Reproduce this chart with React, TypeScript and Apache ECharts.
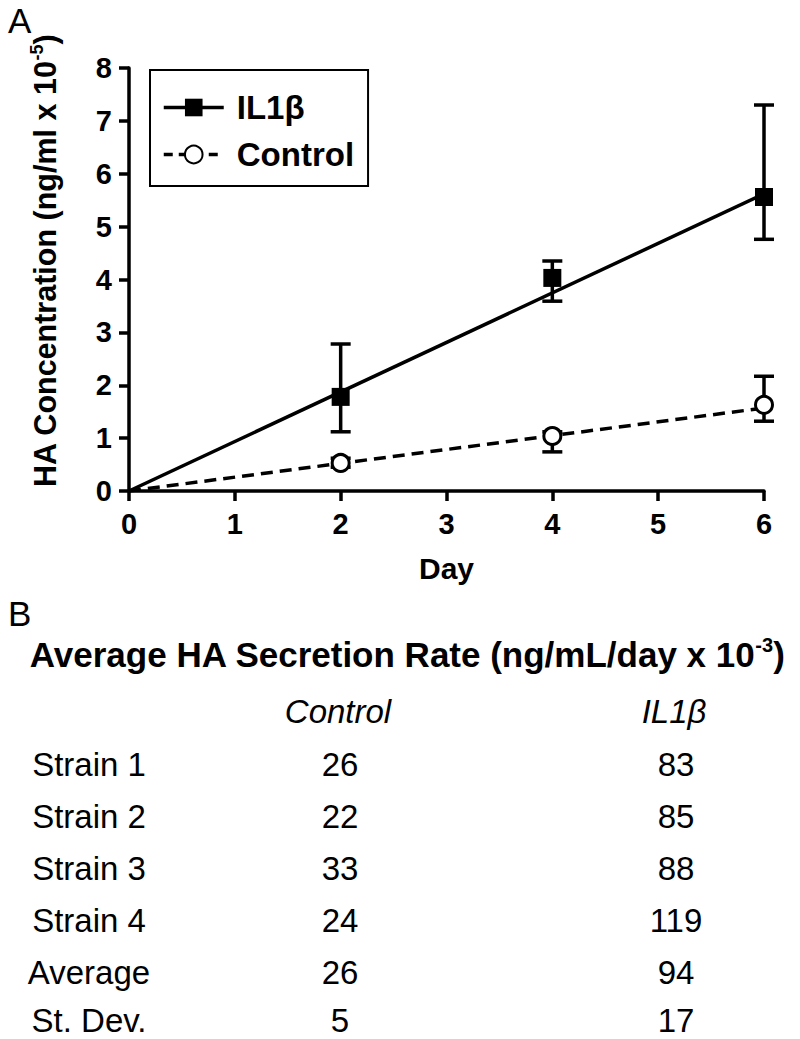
import React, { useEffect, useRef } from "react";
import * as echarts from "echarts";

// ---------- Panel A data ----------
const days = [2, 4, 6];
const il1bMean = [1.78, 4.03, 5.56];
const il1bLow = [1.12, 3.59, 4.76];
const il1bHigh = [2.78, 4.35, 7.3];
const ctrlMean = [0.53, 1.04, 1.63];
const ctrlLow = [0.45, 0.74, 1.32];
const ctrlHigh = [0.62, 1.12, 2.17];
const fitDays = [0, 6];
const il1bFit = [0, 5.62];
const ctrlFit = [0, 1.57];

// ---------- Panel B data ----------
const columnHeaders = ["Control", "IL1β"];
const rowLabels = ["Strain 1", "Strain 2", "Strain 3", "Strain 4", "Average", "St. Dev."];
const controlRates = [26, 22, 33, 24, 26, 5];
const il1bRates = [83, 85, 88, 119, 94, 17];

const FONT = "'Liberation Sans', Arial, Helvetica, sans-serif";

function errorSeries(name: string, low: number[], high: number[]) {
  return {
    name,
    type: "custom",
    z: 2,
    silent: true,
    data: days.map((d, i) => [d, low[i], high[i]]),
    encode: { x: 0, y: [1, 2] },
    renderItem: (params: any, api: any) => {
      const x = api.value(0);
      const lo = api.coord([x, api.value(1)]);
      const hi = api.coord([x, api.value(2)]);
      const cap = 10;
      const st = { stroke: "#000", lineWidth: 3.5 };
      return {
        type: "group",
        children: [
          { type: "line", shape: { x1: lo[0], y1: lo[1], x2: hi[0], y2: hi[1] }, style: st },
          { type: "line", shape: { x1: lo[0] - cap, y1: lo[1], x2: lo[0] + cap, y2: lo[1] }, style: st },
          { type: "line", shape: { x1: hi[0] - cap, y1: hi[1], x2: hi[0] + cap, y2: hi[1] }, style: st },
        ],
      };
    },
  };
}

export default function App() {
  const ref = useRef<HTMLDivElement>(null);

  useEffect(() => {
    if (!ref.current) return;
    const chart = echarts.init(ref.current, undefined, { renderer: "svg" });

    const tableRowY = [764, 816, 868, 920, 972, 1020];
    const colX = [89, 340, 676];
    const tableTexts: any[] = [];
    rowLabels.forEach((lab, i) => {
      const vals = [lab, String(controlRates[i]), String(il1bRates[i])];
      vals.forEach((t, j) => {
        tableTexts.push({
          type: "text",
          x: colX[j],
          y: tableRowY[i],
          style: {
            text: t,
            fill: "#000",
            font: `33px ${FONT}`,
            lineHeight: 34,
            align: "center",
            verticalAlign: "middle",
          },
        });
      });
    });
    columnHeaders.forEach((h, j) => {
      tableTexts.push({
        type: "text",
        x: colX[j + 1] - 2,
        y: 711,
        style: {
          text: h,
          fill: "#000",
          font: `italic 33px ${FONT}`,
          align: "center",
          verticalAlign: "middle",
        },
      });
    });

    const option: any = {
      animation: false,
      backgroundColor: "#fff",
      grid: {
        left: 129,
        right: 36,
        top: 68,
        bottom: 548,
        containLabel: false,
        outerBoundsMode: "none",
      },
      xAxis: {
        type: "value",
        min: 0,
        max: 6,
        interval: 1,
        name: "Day",
        nameLocation: "middle",
        nameGap: 62,
        nameTextStyle: { fontSize: 30, fontWeight: "bold", color: "#000", fontFamily: FONT },
        axisLine: { lineStyle: { color: "#000", width: 3.5 } },
        axisTick: { length: 10, lineStyle: { color: "#000", width: 3.5 } },
        axisLabel: { margin: 18, fontSize: 29, fontWeight: "bold", color: "#000", fontFamily: FONT },
        splitLine: { show: false },
      },
      yAxis: {
        type: "value",
        min: 0,
        max: 8,
        interval: 1,
        axisLine: { show: true, lineStyle: { color: "#000", width: 3.5 } },
        axisTick: { show: true, length: 10, lineStyle: { color: "#000", width: 3.5 } },
        axisLabel: { margin: 17, fontSize: 29, fontWeight: "bold", color: "#000", fontFamily: FONT },
        splitLine: { show: false },
      },
      legend: {
        orient: "vertical",
        left: 150,
        top: 70,
        padding: [21, 14, 15, 12],
        itemGap: 14,
        itemWidth: 60,
        itemHeight: 22,
        borderColor: "#000",
        borderWidth: 2,
        selectedMode: false,
        textStyle: { fontSize: 33, fontWeight: "bold", color: "#000", fontFamily: FONT, padding: [0, 0, 0, 8] },
        data: [
          { name: "IL1β", lineStyle: { width: 3.5, type: "solid", opacity: 1, color: "#000" } },
          { name: "Control", lineStyle: { width: 3.5, type: [9, 6], opacity: 1, color: "#000" } },
        ],
      },
      series: [
        {
          name: "IL1β fit",
          type: "line",
          z: 1,
          silent: true,
          symbol: "none",
          data: fitDays.map((d, i) => [d, il1bFit[i]]),
          lineStyle: { color: "#000", width: 3.5, type: "solid" },
        },
        {
          name: "Control fit",
          type: "line",
          z: 1,
          silent: true,
          symbol: "none",
          data: fitDays.map((d, i) => [d, ctrlFit[i]]),
          lineStyle: { color: "#000", width: 3.5, type: [12, 7] },
        },
        errorSeries("IL1β error", il1bLow, il1bHigh),
        errorSeries("Control error", ctrlLow, ctrlHigh),
        {
          name: "IL1β",
          type: "line",
          z: 3,
          symbol: "rect",
          symbolSize: 18,
          data: days.map((d, i) => [d, il1bMean[i]]),
          itemStyle: { color: "#000" },
          lineStyle: { opacity: 0 },
        },
        {
          name: "Control",
          type: "line",
          z: 3,
          symbol: "circle",
          symbolSize: 17,
          data: days.map((d, i) => [d, ctrlMean[i]]),
          itemStyle: { color: "#fff", borderColor: "#000", borderWidth: 3 },
          lineStyle: { opacity: 0 },
        },
      ],
      graphic: [
        {
          type: "text",
          x: 8,
          y: 20,
          style: { text: "A", fill: "#000", font: `35px ${FONT}`, verticalAlign: "middle" },
        },
        {
          type: "text",
          x: 45,
          y: 261,
          rotation: Math.PI / 2,
          style: {
            text: "{b|HA Concentration (ng/ml x 10}{s|-5}{b|)}",
            align: "center",
            verticalAlign: "middle",
            rich: {
              b: { fontSize: 30.5, fontWeight: "bold", fontFamily: FONT, fill: "#000", lineHeight: 34 },
              s: { fontSize: 18, fontWeight: "bold", fontFamily: FONT, fill: "#000", verticalAlign: "top", lineHeight: 20 },
            },
          },
        },
        {
          type: "text",
          x: 8,
          y: 613,
          style: { text: "B", fill: "#000", font: `35px ${FONT}`, verticalAlign: "middle" },
        },
        {
          type: "text",
          x: 407,
          y: 654,
          style: {
            text: "{b|Average HA Secretion Rate (ng/mL/day x 10}{s|-3}{b|)}",
            align: "center",
            verticalAlign: "middle",
            rich: {
              b: { fontSize: 35, fontWeight: "bold", fontFamily: FONT, fill: "#000", lineHeight: 38 },
              s: { fontSize: 20, fontWeight: "bold", fontFamily: FONT, fill: "#000", verticalAlign: "top", lineHeight: 20 },
            },
          },
        },
        ...tableTexts,
      ],
    };

    chart.setOption(option);
    return () => chart.dispose();
  }, []);

  return (
    <div
      ref={ref}
      style={{ position: "absolute", left: 0, top: 0, width: 800, height: 1039 }}
    />
  );
}
